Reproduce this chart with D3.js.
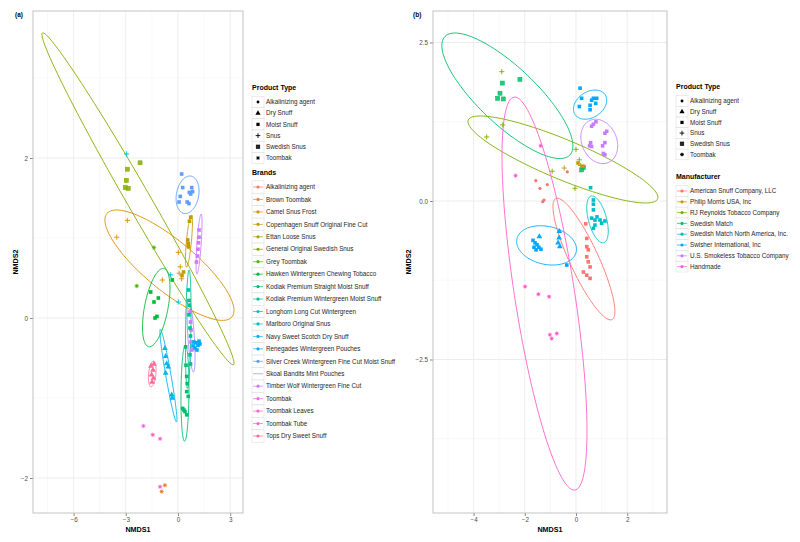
<!DOCTYPE html>
<html><head><meta charset="utf-8">
<script src="https://cdn.jsdelivr.net/npm/d3@7"></script>
<style>body{margin:0;background:#fff} svg{font-family:"Liberation Sans",Arial,sans-serif}</style>
</head><body><svg id="c" width="800" height="542"></svg>
<script>
// ---------------- DATA ----------------
const productTypes = ["Alkalinizing agent","Dry Snuff","Moist Snuff","Snus","Swedish Snus","Toombak"];
const brands = ["Alkalinizing agent","Brown Toombak","Camel Snus Frost","Copenhagen Snuff Original Fine Cut",
 "Ettan Loose Snus","General Original Swedish Snus","Grey Toombak","Hawken Wintergreen Chewing Tobacco",
 "Kodiak Premium Straight Moist Snuff","Kodiak Premium Wintergreen Moist Snuff","Longhorn Long Cut Wintergreen",
 "Marlboro Original Snus","Navy Sweet Scotch Dry Snuff","Renegades Wintergreen Pouches",
 "Silver Creek Wintergreen Fine Cut Moist Snuff","Skoal Bandits Mint Pouches","Timber Wolf Wintergreen Fine Cut",
 "Toombak","Toombak Leaves","Toombak Tube","Tops Dry Sweet Snuff"];
const manufacturers = ["American Snuff Company, LLC","Philip Morris USA, Inc","RJ Reynolds Tobacco Company",
 "Swedish Match","Swedish Match North America, Inc.","Swisher International, Inc",
 "U.S. Smokeless Tobacco Company","Handmade"];

const xTicksA = [-6,-3,0,3], yTicksA = [-2,0,2];
const xMinorA = [-7.5,-4.5,-1.5,1.5], yMinorA = [-1,1,3];
const xTicksB = [-4,-2,0,2], yTicksB = [-2.5,0,2.5];
const xMinorB = [-5,-3,-1,1,3], yMinorB = [-3.75,-1.25,1.25];

// panel (a) points: [brand, product type, NMDS1, NMDS2]
const pointsA = [
 ["General Original Swedish Snus","Swedish Snus",-2.18,1.94],["General Original Swedish Snus","Swedish Snus",-2.91,1.86],
 ["General Original Swedish Snus","Swedish Snus",-2.97,1.72],["General Original Swedish Snus","Swedish Snus",-3.03,1.63],
 ["General Original Swedish Snus","Swedish Snus",-2.86,1.62],
 ["Grey Toombak","Toombak",-1.38,0.88],["Grey Toombak","Toombak",-2.37,0.4],
 ["Marlboro Original Snus","Snus",-2.95,2.05],["Marlboro Original Snus","Snus",-0.42,0.54],["Marlboro Original Snus","Snus",0.02,0.2],
 ["Camel Snus Frost","Snus",-3.52,1.01],["Camel Snus Frost","Snus",-2.91,1.22],["Camel Snus Frost","Snus",-0.9,0.475],
 ["Camel Snus Frost","Snus",0.02,0.82],["Camel Snus Frost","Snus",0.13,0.64],["Camel Snus Frost","Snus",0.07,0.56],
 ["Camel Snus Frost","Snus",0.21,0.49],
 ["Copenhagen Snuff Original Fine Cut","Moist Snuff",0.73,1.26],["Copenhagen Snuff Original Fine Cut","Moist Snuff",0.66,1.21],
 ["Copenhagen Snuff Original Fine Cut","Moist Snuff",0.59,0.93],["Copenhagen Snuff Original Fine Cut","Moist Snuff",0.61,0.89],
 ["Copenhagen Snuff Original Fine Cut","Moist Snuff",0.56,0.975],["Copenhagen Snuff Original Fine Cut","Moist Snuff",0.23,0.53],
 ["Copenhagen Snuff Original Fine Cut","Moist Snuff",0.32,0.575],
 ["Timber Wolf Wintergreen Fine Cut","Moist Snuff",1.21,1.1],["Timber Wolf Wintergreen Fine Cut","Moist Snuff",1.21,1.01],
 ["Timber Wolf Wintergreen Fine Cut","Moist Snuff",1.18,0.94],["Timber Wolf Wintergreen Fine Cut","Moist Snuff",1.15,0.86],
 ["Timber Wolf Wintergreen Fine Cut","Moist Snuff",1.12,0.775],["Timber Wolf Wintergreen Fine Cut","Moist Snuff",1.06,0.7],
 ["Timber Wolf Wintergreen Fine Cut","Moist Snuff",0.69,0.075],["Timber Wolf Wintergreen Fine Cut","Moist Snuff",0.72,-0.05],
 ["Timber Wolf Wintergreen Fine Cut","Moist Snuff",0.75,-0.15],["Timber Wolf Wintergreen Fine Cut","Moist Snuff",0.75,-0.3],
 ["Timber Wolf Wintergreen Fine Cut","Moist Snuff",0.8,-0.4],
 ["Silver Creek Wintergreen Fine Cut Moist Snuff","Moist Snuff",0.21,1.8],["Silver Creek Wintergreen Fine Cut Moist Snuff","Moist Snuff",0.27,1.63],
 ["Silver Creek Wintergreen Fine Cut Moist Snuff","Moist Snuff",0.79,1.63],["Silver Creek Wintergreen Fine Cut Moist Snuff","Moist Snuff",0.65,1.57],
 ["Silver Creek Wintergreen Fine Cut Moist Snuff","Moist Snuff",0.73,1.55],["Silver Creek Wintergreen Fine Cut Moist Snuff","Moist Snuff",0.84,1.58],
 ["Silver Creek Wintergreen Fine Cut Moist Snuff","Moist Snuff",0.13,1.52],["Silver Creek Wintergreen Fine Cut Moist Snuff","Moist Snuff",0.53,1.45],
 ["Silver Creek Wintergreen Fine Cut Moist Snuff","Moist Snuff",0.63,1.43],["Silver Creek Wintergreen Fine Cut Moist Snuff","Moist Snuff",0.06,1.45],
 ["Hawken Wintergreen Chewing Tobacco","Moist Snuff",-1.57,0.325],["Hawken Wintergreen Chewing Tobacco","Moist Snuff",-1.38,0.2],
 ["Hawken Wintergreen Chewing Tobacco","Moist Snuff",-1.13,0.25],["Hawken Wintergreen Chewing Tobacco","Moist Snuff",-1.32,0.0],
 ["Hawken Wintergreen Chewing Tobacco","Moist Snuff",-1.21,0.02],["Hawken Wintergreen Chewing Tobacco","Moist Snuff",-0.33,0.475],
 ["Kodiak Premium Wintergreen Moist Snuff","Moist Snuff",0.63,0.22],["Kodiak Premium Wintergreen Moist Snuff","Moist Snuff",0.65,0.16],
 ["Kodiak Premium Wintergreen Moist Snuff","Moist Snuff",0.63,0.04],["Kodiak Premium Wintergreen Moist Snuff","Moist Snuff",0.69,-0.125],
 ["Kodiak Premium Wintergreen Moist Snuff","Moist Snuff",0.72,-0.225],["Kodiak Premium Wintergreen Moist Snuff","Moist Snuff",0.69,-0.46],
 ["Kodiak Premium Wintergreen Moist Snuff","Moist Snuff",0.72,-0.575],
 ["Kodiak Premium Straight Moist Snuff","Moist Snuff",0.44,-0.36],["Kodiak Premium Straight Moist Snuff","Moist Snuff",0.46,-0.59],
 ["Kodiak Premium Straight Moist Snuff","Moist Snuff",0.5,-0.73],["Kodiak Premium Straight Moist Snuff","Moist Snuff",0.53,-0.82],
 ["Kodiak Premium Straight Moist Snuff","Moist Snuff",0.5,-0.92],["Kodiak Premium Straight Moist Snuff","Moist Snuff",0.59,-0.98],
 ["Kodiak Premium Straight Moist Snuff","Moist Snuff",0.27,-1.13],["Kodiak Premium Straight Moist Snuff","Moist Snuff",0.4,-1.17],
 ["Kodiak Premium Straight Moist Snuff","Moist Snuff",0.5,-1.21],["Kodiak Premium Straight Moist Snuff","Moist Snuff",0.34,-1.15],
 ["Renegades Wintergreen Pouches","Moist Snuff",0.92,-0.3],["Renegades Wintergreen Pouches","Moist Snuff",1.03,-0.31],
 ["Renegades Wintergreen Pouches","Moist Snuff",1.15,-0.34],["Renegades Wintergreen Pouches","Moist Snuff",1.26,-0.325],
 ["Renegades Wintergreen Pouches","Moist Snuff",0.98,-0.375],["Renegades Wintergreen Pouches","Moist Snuff",1.09,-0.4],
 ["Renegades Wintergreen Pouches","Moist Snuff",0.86,-0.35],["Renegades Wintergreen Pouches","Moist Snuff",1.21,-0.29],
 ["Navy Sweet Scotch Dry Snuff","Dry Snuff",-0.75,-0.38],["Navy Sweet Scotch Dry Snuff","Dry Snuff",-0.71,-0.48],
 ["Navy Sweet Scotch Dry Snuff","Dry Snuff",-0.65,-0.57],["Navy Sweet Scotch Dry Snuff","Dry Snuff",-0.56,-0.61],
 ["Navy Sweet Scotch Dry Snuff","Dry Snuff",-0.71,-0.69],["Navy Sweet Scotch Dry Snuff","Dry Snuff",-0.36,-0.96],
 ["Navy Sweet Scotch Dry Snuff","Dry Snuff",-0.33,-1.0],
 ["Tops Dry Sweet Snuff","Dry Snuff",-1.55,-0.6],["Tops Dry Sweet Snuff","Dry Snuff",-1.44,-0.65],
 ["Tops Dry Sweet Snuff","Dry Snuff",-1.52,-0.71],["Tops Dry Sweet Snuff","Dry Snuff",-1.41,-0.75],
 ["Tops Dry Sweet Snuff","Dry Snuff",-1.49,-0.8],["Tops Dry Sweet Snuff","Dry Snuff",-1.38,-0.575],
 ["Toombak","Toombak",-1.99,-1.35],["Toombak Tube","Toombak",-1.45,-1.46],
 ["Toombak Leaves","Toombak",-1.03,-1.51],["Toombak Leaves","Toombak",-1.03,-2.11],
 ["Brown Toombak","Toombak",-0.94,-2.17],["Brown Toombak","Toombak",-0.75,-2.09],
 ["Longhorn Long Cut Wintergreen","Moist Snuff",0.6,0.35]
];
// panel (a) ellipses: [brand, centre x, centre y, half-width x, half-height y, correlation]
const ellipsesA = [
 ["General Original Swedish Snus",-2.3,1.49,5.52,2.075,-0.99],
 ["Camel Snus Frost",-0.49,0.66,3.71,0.69,-0.82],
 ["Copenhagen Snuff Original Fine Cut",0.63,0.96,0.2,0.325,0.7],
 ["Timber Wolf Wintergreen Fine Cut",1.21,0.925,0.17,0.375,0.7],
 ["Skoal Bandits Mint Pouches",0.75,-0.225,0.23,0.45,-0.6],
 ["Silver Creek Wintergreen Fine Cut Moist Snuff",0.55,1.54,0.66,0.235,0.2],
 ["Navy Sweet Scotch Dry Snuff",-0.55,-0.72,0.49,0.58,-0.95],
 ["Kodiak Premium Wintergreen Moist Snuff",0.59,-0.14,0.16,0.74,0.3],
 ["Kodiak Premium Straight Moist Snuff",0.4,-0.94,0.23,0.6,0.1],
 ["Hawken Wintergreen Chewing Tobacco",-1.25,0.13,0.79,0.49,0.5],
 ["Tops Dry Sweet Snuff",-1.48,-0.7,0.22,0.16,0.3]
];

// panel (b) points: [manufacturer, product type, NMDS1, NMDS2]
const pointsB = [
 ["Swedish Match","Swedish Snus",-2.88,1.86],["Swedish Match","Swedish Snus",-2.97,1.70],["Swedish Match","Swedish Snus",-3.06,1.62],
 ["Swedish Match","Swedish Snus",-2.84,1.61],["Swedish Match","Swedish Snus",-2.19,1.92],["Swedish Match","Swedish Snus",0.29,0.53],
 ["Swedish Match","Swedish Snus",0.22,0.49],
 ["RJ Reynolds Tobacco Company","Snus",-2.9,2.04],["RJ Reynolds Tobacco Company","Snus",-3.49,1.01],["RJ Reynolds Tobacco Company","Snus",-2.86,1.2],
 ["RJ Reynolds Tobacco Company","Snus",0.0,0.815],["RJ Reynolds Tobacco Company","Snus",0.13,0.65],["RJ Reynolds Tobacco Company","Snus",0.18,0.56],
 ["RJ Reynolds Tobacco Company","Snus",-0.93,0.47],["RJ Reynolds Tobacco Company","Snus",-0.04,0.2],
 ["Philip Morris USA, Inc","Snus",-0.46,0.52],["Philip Morris USA, Inc","Moist Snuff",0.08,0.6],["Philip Morris USA, Inc","Moist Snuff",0.27,0.55],
 ["Swisher International, Inc","Moist Snuff",0.16,1.78],["Swisher International, Inc","Moist Snuff",0.22,1.62],["Swisher International, Inc","Moist Snuff",0.13,1.49],
 ["Swisher International, Inc","Moist Snuff",0.55,1.51],["Swisher International, Inc","Moist Snuff",0.61,1.59],["Swisher International, Inc","Moist Snuff",0.68,1.62],
 ["Swisher International, Inc","Moist Snuff",0.77,1.54],["Swisher International, Inc","Moist Snuff",0.55,1.44],["Swisher International, Inc","Moist Snuff",0.81,1.62],
 ["Swisher International, Inc","Moist Snuff",-1.68,-0.62],["Swisher International, Inc","Moist Snuff",-1.6,-0.66],["Swisher International, Inc","Moist Snuff",-1.52,-0.69],
 ["Swisher International, Inc","Moist Snuff",-1.45,-0.73],["Swisher International, Inc","Moist Snuff",-1.64,-0.73],["Swisher International, Inc","Moist Snuff",-1.37,-0.76],
 ["Swisher International, Inc","Moist Snuff",-1.56,-0.77],["Swisher International, Inc","Dry Snuff",-1.43,-0.56],
 ["Swisher International, Inc","Dry Snuff",-0.65,-0.48],["Swisher International, Inc","Dry Snuff",-0.66,-0.58],["Swisher International, Inc","Dry Snuff",-0.7,-0.66],
 ["Swisher International, Inc","Dry Snuff",-0.63,-0.72],["Swisher International, Inc","Moist Snuff",-0.36,-1.01],
 ["U.S. Smokeless Tobacco Company","Moist Snuff",0.61,1.18],["U.S. Smokeless Tobacco Company","Moist Snuff",0.78,1.25],["U.S. Smokeless Tobacco Company","Moist Snuff",0.68,1.21],
 ["U.S. Smokeless Tobacco Company","Moist Snuff",1.13,1.07],["U.S. Smokeless Tobacco Company","Moist Snuff",1.2,1.1],["U.S. Smokeless Tobacco Company","Moist Snuff",0.57,0.92],
 ["U.S. Smokeless Tobacco Company","Moist Snuff",0.61,0.86],["U.S. Smokeless Tobacco Company","Moist Snuff",0.53,0.87],["U.S. Smokeless Tobacco Company","Moist Snuff",1.04,0.87],
 ["U.S. Smokeless Tobacco Company","Moist Snuff",1.13,0.92],["U.S. Smokeless Tobacco Company","Moist Snuff",1.07,0.75],["U.S. Smokeless Tobacco Company","Moist Snuff",1.13,0.73],
 ["Swedish Match North America, Inc.","Moist Snuff",0.57,0.21],["Swedish Match North America, Inc.","Moist Snuff",0.68,0.016],["Swedish Match North America, Inc.","Moist Snuff",0.68,-0.05],
 ["Swedish Match North America, Inc.","Moist Snuff",0.68,-0.14],["Swedish Match North America, Inc.","Moist Snuff",0.61,-0.27],["Swedish Match North America, Inc.","Moist Snuff",0.74,-0.3],
 ["Swedish Match North America, Inc.","Moist Snuff",0.94,-0.3],["Swedish Match North America, Inc.","Moist Snuff",1.13,-0.315],["Swedish Match North America, Inc.","Moist Snuff",0.74,-0.38],
 ["Swedish Match North America, Inc.","Moist Snuff",0.68,-0.43],["Swedish Match North America, Inc.","Moist Snuff",1.0,-0.35],["Swedish Match North America, Inc.","Moist Snuff",0.82,-0.25],
 ["American Snuff Company, LLC","Moist Snuff",0.42,-0.59],["American Snuff Company, LLC","Moist Snuff",0.42,-0.72],["American Snuff Company, LLC","Moist Snuff",0.48,-0.77],
 ["American Snuff Company, LLC","Moist Snuff",0.42,-0.88],["American Snuff Company, LLC","Moist Snuff",0.48,-0.96],["American Snuff Company, LLC","Moist Snuff",0.55,-1.04],
 ["American Snuff Company, LLC","Moist Snuff",0.29,-1.12],["American Snuff Company, LLC","Moist Snuff",0.42,-1.17],["American Snuff Company, LLC","Moist Snuff",0.55,-1.22],
 ["American Snuff Company, LLC","Moist Snuff",0.38,-0.36],
 ["American Snuff Company, LLC","Alkalinizing agent",-0.34,0.46],["American Snuff Company, LLC","Alkalinizing agent",-1.57,0.32],
 ["American Snuff Company, LLC","Alkalinizing agent",-1.41,0.2],["American Snuff Company, LLC","Alkalinizing agent",-1.12,0.26],
 ["American Snuff Company, LLC","Alkalinizing agent",-1.3,-0.01],["American Snuff Company, LLC","Alkalinizing agent",-1.25,0.016],
 ["Handmade","Toombak",-1.38,0.87],["Handmade","Toombak",-2.36,0.4],["Handmade","Toombak",-1.99,-1.35],
 ["Handmade","Toombak",-1.47,-1.47],["Handmade","Toombak",-1.05,-1.51],["Handmade","Toombak",-1.02,-2.11],
 ["Handmade","Toombak",-0.95,-2.17],["Handmade","Toombak",-0.75,-2.09]
];
// panel (b) ellipses: [manufacturer, centre x, centre y, half-width x, half-height y, correlation]
const ellipsesB = [
 ["Swedish Match",-2.68,1.66,2.56,0.99,-0.8],
 ["RJ Reynolds Tobacco Company",-0.51,0.655,3.71,0.686,-0.87],
 ["Swisher International, Inc",0.55,1.52,0.65,0.23,0.3],
 ["Swisher International, Inc",-1.15,-0.70,1.17,0.31,-0.2],
 ["U.S. Smokeless Tobacco Company",0.91,0.94,0.72,0.35,-0.2],
 ["Swedish Match North America, Inc.",0.84,-0.29,0.42,0.37,-0.5],
 ["American Snuff Company, LLC",0.31,-0.915,1.21,0.96,-0.86],
 ["Handmade",-1.23,-1.46,1.66,3.1,-0.7]
];

// ---------------- HELPERS ----------------
function hclHex(h, c, l) { // R's polarLUV hcl()
  const WY = 100, Wu = 0.1978398, Wv = 0.4683363, hr = h * Math.PI / 180;
  const U = c * Math.cos(hr), V = c * Math.sin(hr);
  const Y = WY * (l > 7.999592 ? Math.pow((l + 16) / 116, 3) : l / 903.3);
  const u = U / (13 * l) + Wu, v = V / (13 * l) + Wv;
  const X = 9 * Y * u / (4 * v), Z = -X / 3 - 5 * Y + 3 * Y / v;
  const g = t => t > 0.00304 ? 1.055 * Math.pow(t, 1 / 2.4) - 0.055 : 12.92 * t;
  const R = g((3.240479 * X - 1.537150 * Y - 0.498535 * Z) / WY);
  const G = g((-0.969256 * X + 1.875992 * Y + 0.041556 * Z) / WY);
  const B = g((0.055648 * X - 0.204043 * Y + 1.057311 * Z) / WY);
  const cl = t => Math.round(Math.max(0, Math.min(1, t)) * 255);
  return d3.rgb(cl(R), cl(G), cl(B)).formatHex();
}
function huePal(n) { const out = []; for (let i = 0; i < n; i++) out.push(hclHex(15 + 360 * i / n, 100, 65)); return out; }
const colA = d3.scaleOrdinal(brands, huePal(brands.length));
const colB = d3.scaleOrdinal(manufacturers, huePal(manufacturers.length));

function drawShape(g, type, x, y, color, r) {
  const s = g.append("g").attr("transform", `translate(${x},${y})`);
  if (type === "Alkalinizing agent") s.append("circle").attr("r", r * 0.8).attr("fill", color);
  else if (type === "Dry Snuff") s.append("path").attr("d", d3.symbol(d3.symbolTriangle, r * r * 3.6)()).attr("fill", color);
  else if (type === "Moist Snuff") s.append("rect").attr("x", -r * 0.9).attr("y", -r * 0.9).attr("width", r * 1.8).attr("height", r * 1.8).attr("fill", color);
  else if (type === "Snus") {
    s.append("path").attr("d", `M${-r * 1.3},0H${r * 1.3}M0,${-r * 1.3}V${r * 1.3}`).attr("stroke", color).attr("stroke-width", 0.9).attr("fill", "none");
  } else if (type === "Swedish Snus") {
    s.append("rect").attr("x", -r).attr("y", -r).attr("width", r * 2).attr("height", r * 2).attr("fill", color).attr("fill-opacity", 0.85)
     .attr("stroke", color).attr("stroke-width", 0.6);
  } else if (type === "Toombak") {
    const k = r * 1.1, d = k * 0.72;
    s.append("circle").attr("r", r * 0.7).attr("fill", color);
    s.append("path").attr("d", `M${-k},0H${k}M0,${-k}V${k}M${-d},${-d}L${d},${d}M${-d},${d}L${d},${-d}`)
     .attr("stroke", color).attr("stroke-width", 0.7).attr("fill", "none");
  }
}

function ellipsePath(xs, ys, cx, cy, sx, sy, rho) {
  const pts = d3.range(0, 121).map(i => {
    const t = i / 120 * 2 * Math.PI;
    return [xs(cx + sx * Math.cos(t)), ys(cy + sy * (rho * Math.cos(t) + Math.sqrt(1 - rho * rho) * Math.sin(t)))];
  });
  return d3.line()(pts) + "Z";
}

const svg = d3.select("#c");
svg.append("rect").attr("width", 800).attr("height", 542).attr("fill", "#fff");

function panel(opt) {
  const {x0, x1, y0, y1, xd, yd, xt, yt, xm, ym, fmtY, label, labX, ytitleX} = opt;
  const xs = d3.scaleLinear().domain(xd).range([x0, x1]);
  const ys = d3.scaleLinear().domain(yd).range([y1, y0]);
  const g = svg.append("g");
  const grid = g.append("g");
  xm.forEach(v => grid.append("line").attr("x1", xs(v)).attr("x2", xs(v)).attr("y1", y0).attr("y2", y1).attr("stroke", "#f4f4f4").attr("stroke-width", 0.6));
  ym.forEach(v => grid.append("line").attr("y1", ys(v)).attr("y2", ys(v)).attr("x1", x0).attr("x2", x1).attr("stroke", "#f4f4f4").attr("stroke-width", 0.6));
  xt.forEach(v => grid.append("line").attr("x1", xs(v)).attr("x2", xs(v)).attr("y1", y0).attr("y2", y1).attr("stroke", "#ebebeb").attr("stroke-width", 0.9));
  yt.forEach(v => grid.append("line").attr("y1", ys(v)).attr("y2", ys(v)).attr("x1", x0).attr("x2", x1).attr("stroke", "#ebebeb").attr("stroke-width", 0.9));
  const ax = g.append("g").attr("transform", `translate(0,${y1})`)
    .call(d3.axisBottom(xs).tickValues(xt).tickSize(3).tickPadding(2).tickFormat(d3.format("d")));
  const ay = g.append("g").attr("transform", `translate(${x0},0)`)
    .call(d3.axisLeft(ys).tickValues(yt).tickSize(3).tickPadding(2).tickFormat(fmtY));
  [ax, ay].forEach(a => {
    a.select(".domain").remove();
    a.selectAll("line").attr("stroke", "#555").attr("stroke-width", 0.7);
    a.selectAll("text").attr("fill", "#4d4d4d").attr("font-size", 6.3).attr("font-family", "Liberation Sans, Arial, sans-serif");
  });
  g.append("text").attr("x", (x0 + x1) / 2).attr("y", y1 + 18.5).attr("text-anchor", "middle").attr("font-size", 7.2).attr("font-weight", "bold").text("NMDS1");
  g.append("text").attr("transform", `translate(${ytitleX},${(y0 + y1) / 2}) rotate(-90)`).attr("text-anchor", "middle").attr("font-size", 7.2).attr("font-weight", "bold").text("NMDS2");
  g.append("text").attr("x", labX).attr("y", y0 + 6).attr("font-size", 6.5).attr("font-weight", "bold").text(label);
  const clip = "clip" + label.replace(/\W/g, "");
  svg.append("clipPath").attr("id", clip).append("rect").attr("x", x0).attr("y", y0).attr("width", x1 - x0).attr("height", y1 - y0);
  const plot = g.append("g").attr("clip-path", `url(#${clip})`);
  g.append("rect").attr("x", x0).attr("y", y0).attr("width", x1 - x0).attr("height", y1 - y0).attr("fill", "none").attr("stroke", "#bdbdbd").attr("stroke-width", 0.9);
  return {xs, ys, plot};
}

function legend(x, y, title, items, colorFn, rowH, pointOnly) {
  const g = svg.append("g");
  g.append("text").attr("x", x).attr("y", y).attr("font-size", 7).attr("font-weight", "bold").text(title);
  items.forEach((it, i) => {
    const cy = y + 12 + i * rowH;
    g.append("rect").attr("x", x).attr("y", cy - rowH / 2).attr("width", 12).attr("height", rowH).attr("fill", "#fff").attr("stroke", "#d9d9d9").attr("stroke-width", 0.5);
    if (pointOnly) drawShape(g, it, x + 6, cy, "#000", 1.8);
    else {
      g.append("line").attr("x1", x + 1).attr("x2", x + 11).attr("y1", cy).attr("y2", cy).attr("stroke", colorFn(it)).attr("stroke-width", 0.7);
      if (it !== "Skoal Bandits Mint Pouches") g.append("circle").attr("cx", x + 6).attr("cy", cy).attr("r", 1.6).attr("fill", colorFn(it));
    }
    g.append("text").attr("x", x + 14).attr("y", cy + 2.2).attr("font-size", 6.3).attr("fill", "#262626").text(it);
  });
}

// ---------------- PANEL (a) ----------------
const A = panel({x0: 33, x1: 243, y0: 11, y1: 513, xd: [-8.333, 3.736], yd: [-2.4375, 3.8375],
  xt: xTicksA, yt: yTicksA, xm: xMinorA, ym: yMinorA, fmtY: d3.format("d"), label: "(a)", labX: 15, ytitleX: 18});
ellipsesA.forEach(e => A.plot.append("path").attr("d", ellipsePath(A.xs, A.ys, e[1], e[2], e[3], e[4], e[5]))
  .attr("fill", "none").attr("stroke", colA(e[0])).attr("stroke-width", 0.9));
pointsA.forEach(p => drawShape(A.plot, p[1], A.xs(p[2]), A.ys(p[3]), colA(p[0]), 2.0));
legend(252, 90, "Product Type", productTypes, null, 11.2, true);
legend(252, 175, "Brands", brands, colA, 12.45, false);

// ---------------- PANEL (b) ----------------
const B = panel({x0: 433, x1: 667, y0: 11, y1: 513, xd: [-5.586, 3.555], yd: [-4.921, 2.997],
  xt: xTicksB, yt: yTicksB, xm: xMinorB, ym: yMinorB, fmtY: d3.format(".1f"), label: "(b)", labX: 413, ytitleX: 411});
ellipsesB.forEach(e => B.plot.append("path").attr("d", ellipsePath(B.xs, B.ys, e[1], e[2], e[3], e[4], e[5]))
  .attr("fill", "none").attr("stroke", colB(e[0])).attr("stroke-width", 0.9));
pointsB.forEach(p => drawShape(B.plot, p[1], B.xs(p[2]), B.ys(p[3]), colB(p[0]), 2.0));
legend(676, 89, "Product Type", productTypes, null, 10.7, true);
legend(676, 179, "Manufacturer", manufacturers, colB, 10.8, false);
</script></body></html>
